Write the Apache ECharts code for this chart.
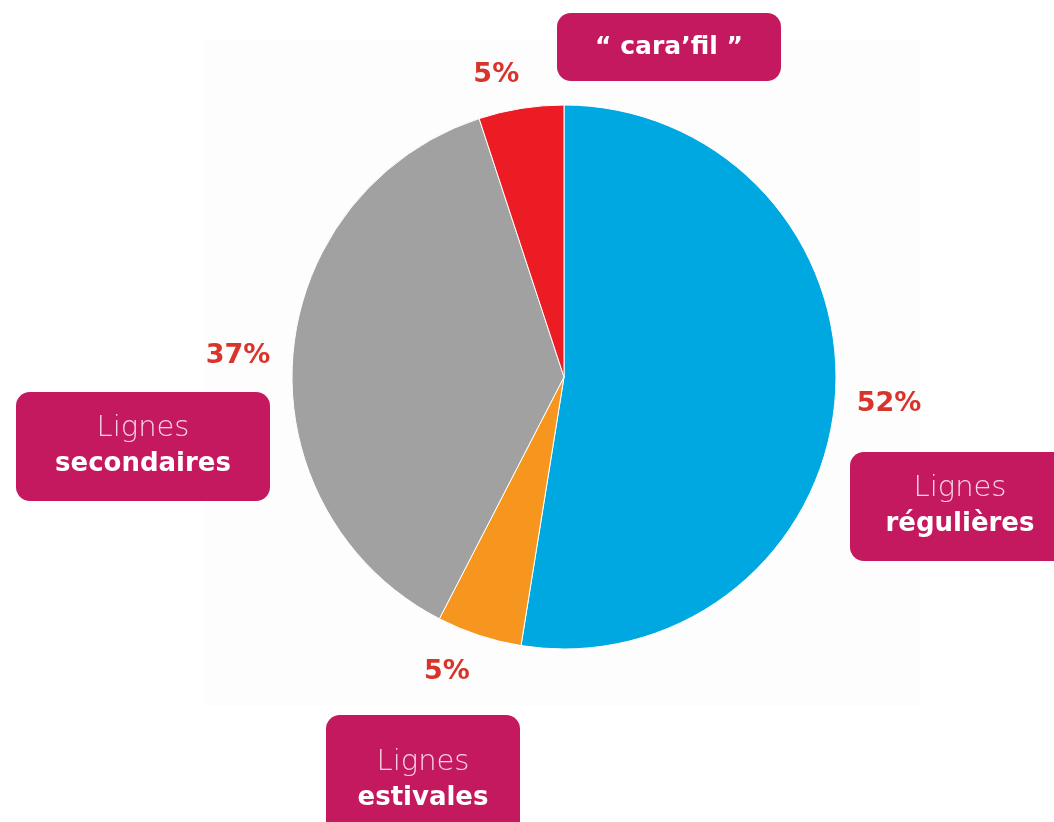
<!DOCTYPE html>
<html>
<head>
<meta charset="utf-8">
<script src="https://cdn.jsdelivr.net/npm/echarts@6/dist/echarts.min.js"></script>
<style>
html,body{margin:0;padding:0;background:#fff;}
#chart{width:1054px;height:822px;}
</style>
</head>
<body>
<div id="chart"></div>
<script>
//分类
var categories = ['Lignes régulières', 'Lignes estivales', 'Lignes secondaires', '“ cara’fil ”'];
//百分比
var shares = [52, 5, 37, 5];
var sliceColors = ['#00a8e1', '#f7961f', '#a1a1a1', '#ec1c24'];

var magenta = '#c4195f';
var pctColor = '#d9342b';
var font = '"DejaVu Sans", sans-serif';

var chart = echarts.init(document.getElementById('chart'));

//饼图数据
var pieData = [];
for (var i = 0; i < categories.length; i++) {
    pieData.push({name: categories[i], value: shares[i], itemStyle: {color: sliceColors[i]}});
}
//百分比标签微调
var labelShift = [[5, 2], [-17, -10], [-6, 4], [-17, 15]];

//标签框
function makeBox(name, x, y, w, h) {
    var parts = name.split(' ');
    var txt;
    if (parts[0] == 'Lignes') {
        txt = '{l|' + parts[0] + '}\n{b|' + parts.slice(1).join(' ') + '}';
    } else {
        txt = '{c|' + name + '}';
    }
    return {
        type: 'group',
        children: [{
            type: 'rect',
            shape: {x: x, y: y, width: w, height: h, r: 14},
            style: {fill: magenta}
        }, {
            type: 'text',
            x: x + w / 2,
            y: y + h / 2,
            style: {
                text: txt,
                align: 'center',
                verticalAlign: 'middle',
                fontFamily: font,
                rich: {
                    l: {fontSize: 29, fontWeight: 200, fill: '#f6d3e2', lineHeight: 36, fontFamily: font, align: 'center'},
                    b: {fontSize: 26, fontWeight: 'bold', fill: '#ffffff', lineHeight: 36, fontFamily: font, align: 'center'},
                    c: {fontSize: 25, fontWeight: 'bold', fill: '#ffffff', fontFamily: font, align: 'center'}
                }
            }
        }]
    };
}

var option = {
    backgroundColor: '#fff',
    animation: false,
    graphic: [
        {type: 'rect', z: -10, shape: {x: 204, y: 40, width: 716, height: 666}, style: {fill: '#fdfdfd'}},
        makeBox(categories[0], 850, 452, 220, 109),
        makeBox(categories[1], 326, 715, 194, 130),
        makeBox(categories[2], 16, 392, 254, 109),
        makeBox(categories[3], 557, 13, 224, 68)
    ],
    series: [
        {
            type: 'pie',
            center: [564, 377],
            radius: 272,
            startAngle: 90,
            clockwise: true,
            silent: true,
            itemStyle: {borderColor: '#fff', borderWidth: 1},
            label: {show: false},
            labelLine: {show: false},
            data: pieData
        },
        {
            //百分比标签环
            type: 'pie',
            center: [564, 377],
            radius: [298, 338],
            startAngle: 90,
            clockwise: true,
            silent: true,
            itemStyle: {color: 'transparent'},
            label: {
                show: true,
                position: 'inside',
                formatter: '{c}%',
                color: pctColor,
                fontSize: 27,
                fontWeight: 'bold',
                fontFamily: font
            },
            labelLine: {show: false},
            data: pieData.map(function (d, k) {
                return {name: d.name, value: d.value, label: {offset: labelShift[k]}};
            })
        }
    ]
};
chart.setOption(option);
</script>
</body>
</html>
